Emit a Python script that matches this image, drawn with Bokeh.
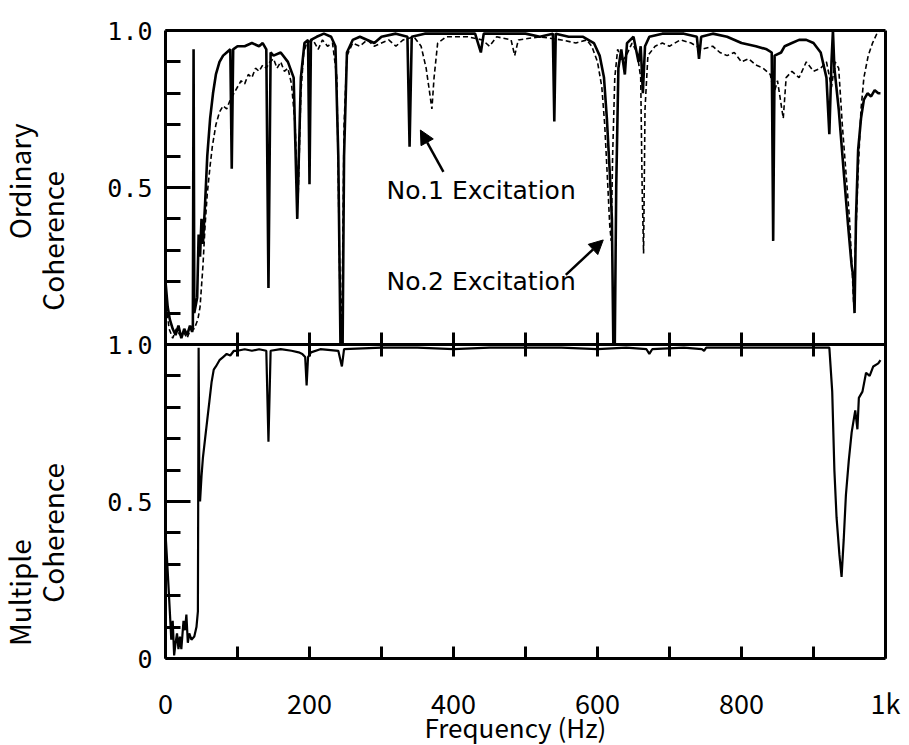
import math
from bokeh.plotting import figure
from bokeh.models import FixedTicker, LinearAxis, Label, Arrow, NormalHead, Range1d
from bokeh.embed import file_html
from bokeh.resources import INLINE

# ---------------- data ----------------
# Ordinary coherence, solid trace: (frequency Hz, coherence)
ORD_SOLID = [
    (0, 0.20), (3, 0.12), (6, 0.08), (10, 0.05), (14, 0.03), (18, 0.06), (22, 0.02),
    (26, 0.05), (30, 0.03), (34, 0.06), (37, 0.04), (38, 0.05), (39, 0.94), (40, 0.10),
    (44, 0.15), (46, 0.35), (48, 0.28), (50, 0.40), (52, 0.32), (55, 0.45), (58, 0.60),
    (62, 0.72), (66, 0.80), (70, 0.86), (75, 0.90), (80, 0.92), (85, 0.93), (90, 0.94),
    (92, 0.56), (94, 0.94), (100, 0.95), (110, 0.95), (120, 0.96), (130, 0.95), (135, 0.96),
    (140, 0.94), (143, 0.18), (146, 0.93), (150, 0.92), (160, 0.93), (170, 0.90), (178, 0.85),
    (183, 0.40), (188, 0.85), (193, 0.96), (198, 0.97), (200, 0.51), (202, 0.97), (210, 0.98),
    (220, 0.99), (230, 0.98), (236, 0.95), (240, 0.60), (243, 0.0), (246, 0.0), (248, 0.60),
    (252, 0.93), (260, 0.97), (270, 0.98), (290, 0.96), (300, 0.98), (320, 0.99), (336, 0.98),
    (339, 0.63), (342, 0.98), (360, 0.99), (380, 0.99), (400, 0.99), (430, 0.99), (438, 0.93),
    (442, 0.99), (470, 0.99), (500, 0.99), (520, 0.98), (538, 0.99), (540, 0.71), (542, 0.99),
    (560, 0.98), (580, 0.98), (595, 0.96), (603, 0.92), (609, 0.85), (613, 0.72), (617, 0.55),
    (620, 0.40), (622, 0.0), (624, 0.0), (626, 0.50), (629, 0.88), (633, 0.94), (638, 0.86),
    (641, 0.96), (650, 0.98), (657, 0.90), (660, 0.95), (663, 0.80), (666, 0.95), (672, 0.98),
    (690, 0.99), (720, 0.99), (738, 0.98), (741, 0.91), (744, 0.98), (760, 0.99), (780, 0.98),
    (800, 0.96), (820, 0.95), (835, 0.94), (842, 0.93), (844, 0.33), (846, 0.92), (855, 0.93),
    (860, 0.95), (870, 0.96), (880, 0.97), (890, 0.97), (900, 0.96), (910, 0.93), (918, 0.85),
    (922, 0.67), (925, 0.90), (927, 1.0), (929, 0.88), (935, 0.75), (942, 0.55), (948, 0.38),
    (953, 0.25), (955, 0.22), (957, 0.10), (959, 0.40), (962, 0.62), (966, 0.72), (970, 0.78),
    (975, 0.80), (980, 0.79), (985, 0.81), (990, 0.80), (993, 0.80),
]

# Ordinary coherence, dashed trace
ORD_DASHED = [
    (0, 0.15), (5, 0.05), (10, 0.02), (15, 0.05), (20, 0.03), (25, 0.04), (30, 0.02),
    (35, 0.05), (40, 0.05), (45, 0.08), (48, 0.12), (52, 0.25), (55, 0.38), (58, 0.48),
    (62, 0.57), (65, 0.63), (70, 0.70), (75, 0.74), (80, 0.76), (85, 0.75), (90, 0.78),
    (95, 0.80), (100, 0.82), (105, 0.84), (110, 0.83), (115, 0.86), (120, 0.85), (125, 0.88),
    (130, 0.87), (135, 0.89), (140, 0.88), (145, 0.90), (150, 0.91), (155, 0.88), (160, 0.90),
    (165, 0.87), (170, 0.88), (175, 0.83), (180, 0.70), (184, 0.45), (188, 0.80), (192, 0.93),
    (196, 0.96), (205, 0.97), (212, 0.94), (218, 0.97), (225, 0.95), (232, 0.96), (238, 0.85),
    (242, 0.20), (245, 0.05), (248, 0.70), (252, 0.92), (260, 0.96), (270, 0.95), (280, 0.97),
    (290, 0.95), (300, 0.96), (310, 0.97), (320, 0.95), (330, 0.97), (345, 0.98), (355, 0.95),
    (362, 0.88), (367, 0.80), (370, 0.75), (373, 0.85), (378, 0.96), (390, 0.98), (420, 0.98),
    (440, 0.97), (450, 0.95), (460, 0.98), (480, 0.97), (485, 0.92), (490, 0.97), (520, 0.98),
    (550, 0.97), (570, 0.96), (585, 0.97), (592, 0.95), (600, 0.90), (606, 0.82), (610, 0.70),
    (614, 0.52), (617, 0.38), (619, 0.33), (621, 0.60), (624, 0.85), (628, 0.94), (634, 0.90),
    (640, 0.92), (648, 0.96), (655, 0.93), (660, 0.85), (662, 0.50), (664, 0.29), (666, 0.75),
    (670, 0.92), (680, 0.95), (690, 0.96), (700, 0.95), (715, 0.97), (730, 0.96), (745, 0.94),
    (760, 0.95), (770, 0.93), (780, 0.92), (790, 0.93), (800, 0.90), (810, 0.91), (820, 0.89),
    (830, 0.88), (840, 0.86), (845, 0.80), (850, 0.84), (858, 0.72), (862, 0.85), (870, 0.87),
    (880, 0.85), (890, 0.90), (900, 0.87), (910, 0.88), (918, 0.90), (925, 0.82), (930, 0.90),
    (935, 0.88), (940, 0.70), (945, 0.55), (950, 0.40), (954, 0.22), (956, 0.12), (958, 0.30),
    (962, 0.55), (966, 0.75), (970, 0.85), (976, 0.92), (982, 0.96), (988, 0.99), (993, 1.0),
]

# Multiple coherence
MULTIPLE = [
    (0, 0.40), (3, 0.28), (6, 0.15), (8, 0.06), (10, 0.12), (12, 0.01), (14, 0.05),
    (16, 0.08), (18, 0.03), (20, 0.07), (22, 0.03), (25, 0.12), (27, 0.09), (29, 0.14),
    (31, 0.05), (33, 0.08), (36, 0.06), (40, 0.07), (43, 0.10), (45, 0.15), (46, 0.99),
    (47, 0.55), (48, 0.50), (50, 0.58), (52, 0.64), (55, 0.70), (58, 0.76), (61, 0.82),
    (64, 0.88), (67, 0.92), (70, 0.93), (75, 0.95), (80, 0.96), (85, 0.97), (90, 0.965),
    (95, 0.98), (100, 0.98), (110, 0.985), (120, 0.98), (130, 0.985), (140, 0.98), (143, 0.69),
    (146, 0.98), (160, 0.985), (175, 0.98), (185, 0.975), (190, 0.97), (194, 0.96), (196, 0.87),
    (198, 0.96), (202, 0.975), (215, 0.985), (240, 0.98), (245, 0.93), (248, 0.985), (300, 0.99),
    (350, 0.99), (400, 0.985), (450, 0.99), (500, 0.99), (550, 0.99), (600, 0.985), (640, 0.99),
    (668, 0.985), (672, 0.97), (676, 0.985), (720, 0.99), (745, 0.985), (748, 0.98), (751, 0.99),
    (800, 0.99), (850, 0.99), (900, 0.99), (922, 0.99), (926, 0.85), (929, 0.60), (932, 0.45),
    (936, 0.33), (939, 0.26), (942, 0.38), (945, 0.52), (949, 0.63), (953, 0.72), (958, 0.79),
    (961, 0.73), (963, 0.83), (968, 0.85), (973, 0.91), (978, 0.90), (983, 0.93), (990, 0.94),
    (993, 0.95),
]

F_MIN, F_MAX = 0, 1000
X_MAJOR = [0, 200, 400, 600, 800, 1000]
X_MINOR = [100, 300, 500, 700, 900]
X_LABELS = {1000: "1k"}
X_TITLE = ("Frequency (Hz)", 486, -0.215)
PANEL_MAJOR = [0.0, 0.5, 1.0]
PANEL_MINOR = [0.1, 0.2, 0.3, 0.4, 0.6, 0.7, 0.8, 0.9]
PANEL_LABELS = ["0", "0.5", "1.0"]

# text, text x, text y, arrow tail (x, y), arrow head (x, y)  -- in top panel units
ANNOTATIONS = [
    ("No.1 Excitation", 307, 0.49, (386, 0.55), (354, 0.683)),
    ("No.2 Excitation", 307, 0.20, (556, 0.222), (608, 0.333)),
]

# y-axis titles: text, x (Hz units, in the margin left of f=0), y (stacked units 0..2)
Y_TITLES = [
    ("Ordinary", -203, 1.52),
    ("Coherence", -157, 1.33),
    ("Multiple", -203, 0.21),
    ("Coherence", -157, 0.40),
]

CJK = "Noto Sans CJK JP"
MONO = "DejaVu Sans Mono"
SANS = "DejaVu Sans"

# ---- page layout (pixels) ----
W, H = 909, 745
BOX_L, BOX_R, BOX_T, BOX_B = 165, 885, 30, 658

# the whole canvas is the frame; the plot box is drawn with axes at fixed locations
sx = (BOX_R - BOX_L) / (F_MAX - F_MIN)
sy = (BOX_B - BOX_T) / 2.0
x_range = Range1d(F_MIN - BOX_L / sx, F_MIN + (W - BOX_L) / sx)
y_lo = -(H - BOX_B) / sy
y_hi = 2.0 + BOX_T / sy


def xy(pairs):
    return [a for a, _ in pairs], [b for _, b in pairs]


p = figure(frame_width=W, frame_height=H, x_range=x_range,
           y_range=Range1d(y_lo, y_hi), output_backend="svg", toolbar_location=None,
           min_border_left=0, min_border_right=0, min_border_top=0,
           min_border_bottom=0, x_axis_location=None, y_axis_location=None)
# bottom panel: default y range (its 0..1 fills the lower half of the box)
# top panel: range "top" shifted by one panel (its 0..1 fills the upper half)
p.extra_y_ranges = {"top": Range1d(y_lo - 1.0, y_hi - 1.0)}
p.grid.visible = False
p.outline_line_color = None
p.background_fill_color = "white"
p.border_fill_color = "white"

# ---- curves ----
xs, ys = xy(ORD_DASHED)
p.line(xs, ys, y_range_name="top", line_color="black", line_width=1.6, line_dash="5 3")
xs, ys = xy(ORD_SOLID)
p.line(xs, ys, y_range_name="top", line_color="black", line_width=2.6)
xs, ys = xy(MULTIPLE)
p.line(xs, ys, line_color="black", line_width=2.2)

# ---- left y axis at f = 0 (stacked: bottom panel 0..1, top panel 1..2) ----
y_major = PANEL_MAJOR + [1.0 + v for v in PANEL_MAJOR[1:]]
y_minor = PANEL_MINOR + [1.0 + v for v in PANEL_MINOR]
y_labels = {}
for v, t in zip(PANEL_MAJOR, PANEL_LABELS):
    y_labels[v] = t
for v, t in zip(PANEL_MAJOR[1:], PANEL_LABELS[1:]):
    y_labels[1.0 + v] = t

yax = LinearAxis(ticker=FixedTicker(ticks=y_major, minor_ticks=y_minor),
                 fixed_location=F_MIN, bounds=(0.0, 2.0))
yax.major_label_overrides = y_labels
yax.major_tick_in = 25
yax.major_tick_out = 0
yax.minor_tick_in = 15
yax.minor_tick_out = 0
yax.major_tick_line_width = 3
yax.minor_tick_line_width = 3
yax.axis_line_color = "black"
yax.axis_line_width = 3
yax.major_label_text_font = MONO
yax.major_label_text_font_size = "25px"
yax.major_label_text_color = "black"
yax.major_label_standoff = 13
p.add_layout(yax, "left")

# right border
p.add_layout(LinearAxis(ticker=FixedTicker(ticks=[]), fixed_location=F_MAX, bounds=(0.0, 2.0),
                        axis_line_color="black", axis_line_width=3), "right")

for text, tx, ty in Y_TITLES:
    p.add_layout(Label(x=tx, y=ty, text=text, angle=math.pi / 2, text_font=CJK,
                       text_font_size="28px", text_align="center",
                       text_baseline="middle", text_color="black"))


# ---- x axes: top border, middle line (ticks both ways), bottom with labels ----
def border_xaxis(loc, ticks_in, with_line):
    return LinearAxis(ticker=FixedTicker(ticks=[], minor_ticks=(X_MAJOR + X_MINOR) if ticks_in else []),
                      fixed_location=loc, bounds=(F_MIN, F_MAX),
                      major_tick_in=0, major_tick_out=0,
                      minor_tick_in=12 if ticks_in else 0, minor_tick_out=0,
                      minor_tick_line_width=3,
                      axis_line_color="black" if with_line else None, axis_line_width=3)


p.add_layout(border_xaxis(2.0, False, True), "above")
p.add_layout(border_xaxis(1.0, True, True), "below")
p.add_layout(border_xaxis(1.0, True, False), "above")

xax = LinearAxis(ticker=FixedTicker(ticks=X_MAJOR, minor_ticks=X_MINOR),
                 fixed_location=0.0, bounds=(F_MIN, F_MAX))
xax.major_label_overrides = X_LABELS
xax.major_tick_in = 12
xax.major_tick_out = 0
xax.minor_tick_in = 12
xax.minor_tick_out = 0
xax.major_tick_line_width = 3
xax.minor_tick_line_width = 3
xax.axis_line_color = "black"
xax.axis_line_width = 3
xax.major_label_text_font = CJK
xax.major_label_text_font_size = "27px"
xax.major_label_text_color = "black"
xax.major_label_standoff = 24
p.add_layout(xax, "below")

p.add_layout(Label(x=X_TITLE[1], y=X_TITLE[2], text=X_TITLE[0], text_font=CJK,
                   text_font_size="26px", text_align="center", text_baseline="alphabetic",
                   text_color="black"))

# ---- excitation annotations (top panel) ----
for text, tx, ty, tail, head in ANNOTATIONS:
    p.add_layout(Label(x=tx, y=ty, y_range_name="top", text=text, text_font=SANS,
                       text_font_size="25px", text_baseline="middle", text_color="black"))
    p.add_layout(Arrow(end=NormalHead(size=14, fill_color="black", line_color="black"),
                       x_start=tail[0], y_start=tail[1], x_end=head[0], y_end=head[1],
                       y_range_name="top", line_width=2.5, line_color="black"))

open("out.html", "w").write(file_html(p, INLINE))
